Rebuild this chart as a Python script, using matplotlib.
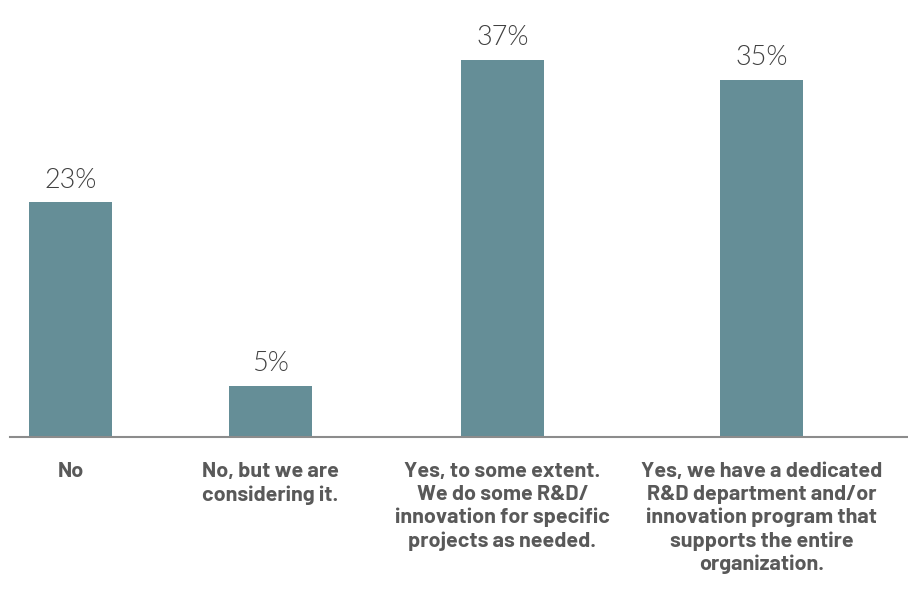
import matplotlib.pyplot as plt

# survey answers and their share of respondents (%)
answers = [
    "No",
    "No, but we are\nconsidering it.",
    "Yes, to some extent.\nWe do some R&D/\ninnovation for specific\nprojects as needed.",
    "Yes, we have a dedicated\nR&D department and/or\ninnovation program that\nsupports the entire\norganization.",
]
shares = [23, 5, 37, 35]

bar_color = "#658e97"
text_color = "#595959"
value_color = "#404040"

fig = plt.figure(figsize=(9.08, 5.93), dpi=100)
ax = fig.add_axes([10 / 908, (593 - 437) / 593, 898 / 908, 437 / 593])

# bars sit at uneven spots across the width
xpos = [60.5, 260.5, 492.5, 751.5]
ax.bar(xpos, shares, width=83, color=bar_color, zorder=2)

for x, v in zip(xpos, shares):
    ax.annotate(f"{v}%", (x, v), xytext=(0, 7), textcoords="offset points",
                ha="center", va="bottom", fontsize=19.5, color=value_color,
                family=["Lato", "DejaVu Sans"], fontweight=300)

ax.set_xlim(0, 898)
ax.set_ylim(0, 437 / 10.2)
ax.set_xticks(xpos)
ax.set_xticklabels(answers, family=["Barlow", "DejaVu Sans"],
                   fontweight="bold", fontsize=15.5, color=text_color,
                   linespacing=1.26, va="top")
ax.tick_params(axis="x", length=0, pad=18)
ax.set_yticks([])
for s in ["top", "right", "left"]:
    ax.spines[s].set_visible(False)
ax.spines["bottom"].set_color("#8c8c8c")
ax.spines["bottom"].set_linewidth(1.5)

fig.savefig("out.png", dpi=100)
